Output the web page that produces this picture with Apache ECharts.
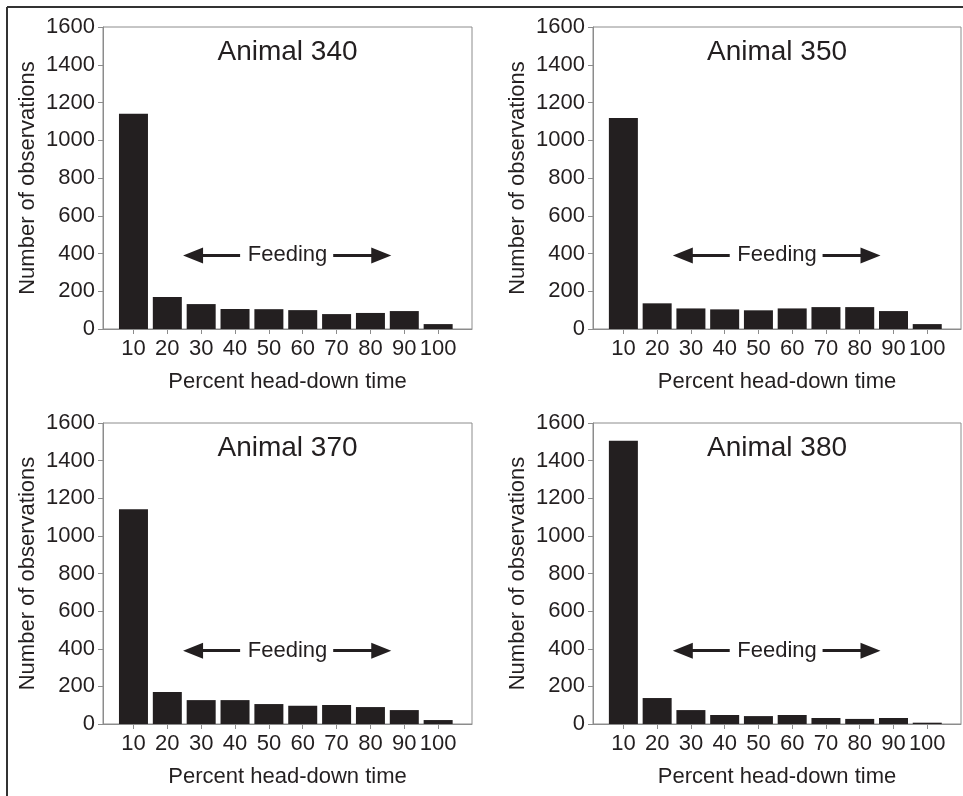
<!DOCTYPE html>
<html>
<head>
<meta charset="utf-8">
<script src="https://cdn.jsdelivr.net/npm/echarts@6/dist/echarts.min.js"></script>
<style>
html,body{margin:0;padding:0;background:#fff;}
#chart{width:963px;height:796px;}
</style>
</head>
<body>
<div id="chart"></div>
<script>
// ---- data ----
const categories = [10, 20, 30, 40, 50, 60, 70, 80, 90, 100];
const animal340 = [1140, 170, 132, 106, 105, 100, 79, 85, 95, 26];
const animal350 = [1118, 136, 109, 104, 99, 109, 116, 116, 95, 26];
const animal370 = [1142, 170, 127, 127, 106, 97, 101, 90, 74, 21];
const animal380 = [1505, 138, 74, 48, 42, 48, 32, 27, 32, 7];
const panelTitles = ['Animal 340', 'Animal 350', 'Animal 370', 'Animal 380'];
const yTickValues = [0, 200, 400, 600, 800, 1000, 1200, 1400, 1600];
const xAxisTitle = 'Percent head-down time';
const yAxisTitle = 'Number of observations';
const feedingLabel = 'Feeding';
const feedingLevel = 390;          // y value of the Feeding annotation
const feedingLeftArrow = [41.5, 27.6];
const feedingRightArrow = [69, 83.2];
const feedingTextX = 55.5;

const seriesValues = [animal340, animal350, animal370, animal380];

// ---- layout ----
const grids = [
  {left: 103, top: 27, width: 369, height: 302},
  {left: 593, top: 27, width: 368, height: 302},
  {left: 103, top: 423, width: 369, height: 301},
  {left: 593, top: 423, width: 368, height: 301}
];
const ink = '#231f20';
const axisGray = '#8c8c8c';
const FONT = '"Liberation Sans", Arial, Helvetica, sans-serif';

const option = {
  animation: false,
  backgroundColor: '#ffffff',
  textStyle: {fontFamily: FONT, color: ink},
  title: grids.map((g, i) => ({
    text: panelTitles[i],
    left: g.left + g.width / 2,
    top: g.top + 11,
    textAlign: 'center',
    padding: 0,
    textStyle: {fontFamily: FONT, fontSize: 28, fontWeight: 'normal', color: ink}
  })),
  grid: grids.map(g => Object.assign({
    show: true, borderColor: axisGray, borderWidth: 1, containLabel: false
  }, g)),
  xAxis: grids.map((g, i) => ({
    type: 'value', gridIndex: i, min: 1, max: 110,
    name: xAxisTitle, nameLocation: 'middle', nameGap: 42,
    nameTextStyle: {fontFamily: FONT, fontSize: 22, color: ink},
    axisLine: {show: true, lineStyle: {color: axisGray, width: 1}},
    axisTick: {show: true, length: 5, lineStyle: {color: axisGray}, customValues: categories},
    axisLabel: {show: true, fontFamily: FONT, fontSize: 22, color: ink, margin: 9, customValues: categories,
                formatter: v => String(v)},
    splitLine: {show: false}
  })),
  yAxis: grids.map((g, i) => ({
    type: 'value', gridIndex: i, min: yTickValues[0], max: yTickValues[yTickValues.length - 1],
    interval: yTickValues[1] - yTickValues[0],
    name: yAxisTitle, nameLocation: 'middle', nameGap: 64,
    nameTextStyle: {fontFamily: FONT, fontSize: 22, color: ink},
    axisLine: {show: true, lineStyle: {color: axisGray, width: 1}},
    axisTick: {show: true, length: 5, lineStyle: {color: axisGray}},
    axisLabel: {show: true, fontFamily: FONT, fontSize: 22, color: ink, margin: 8, formatter: v => String(v)},
    splitLine: {show: false}
  })),
  series: seriesValues.map((vals, i) => ({
    type: 'bar',
    xAxisIndex: i, yAxisIndex: i,
    data: categories.map((c, k) => [c, vals[k]]),
    barWidth: 29,
    itemStyle: {color: ink},
    silent: true,
    markLine: {
      silent: true,
      symbol: ['none', 'triangle'],
      symbolSize: [16, 20],
      label: {show: false},
      lineStyle: {color: ink, width: 3, type: 'solid'},
      emphasis: {disabled: true},
      data: [
        [{coord: [feedingLeftArrow[0], feedingLevel]}, {coord: [feedingLeftArrow[1], feedingLevel]}],
        [{coord: [feedingRightArrow[0], feedingLevel]}, {coord: [feedingRightArrow[1], feedingLevel]}]
      ]
    },
    markPoint: {
      silent: true,
      symbol: 'circle', symbolSize: 0,
      label: {show: true, position: 'inside', formatter: feedingLabel, fontFamily: FONT, fontSize: 22, color: ink},
      data: [{coord: [feedingTextX, feedingLevel]}]
    }
  })),
  graphic: [
    {type: 'line', shape: {x1: 7, y1: 7, x2: 963, y2: 7}, style: {stroke: '#333', lineWidth: 2}, silent: true},
    {type: 'line', shape: {x1: 7, y1: 7, x2: 7, y2: 796}, style: {stroke: '#333', lineWidth: 2}, silent: true}
  ]
};

const chart = echarts.init(document.getElementById('chart'), null, {renderer: 'canvas'});
chart.setOption(option);
</script>
</body>
</html>
